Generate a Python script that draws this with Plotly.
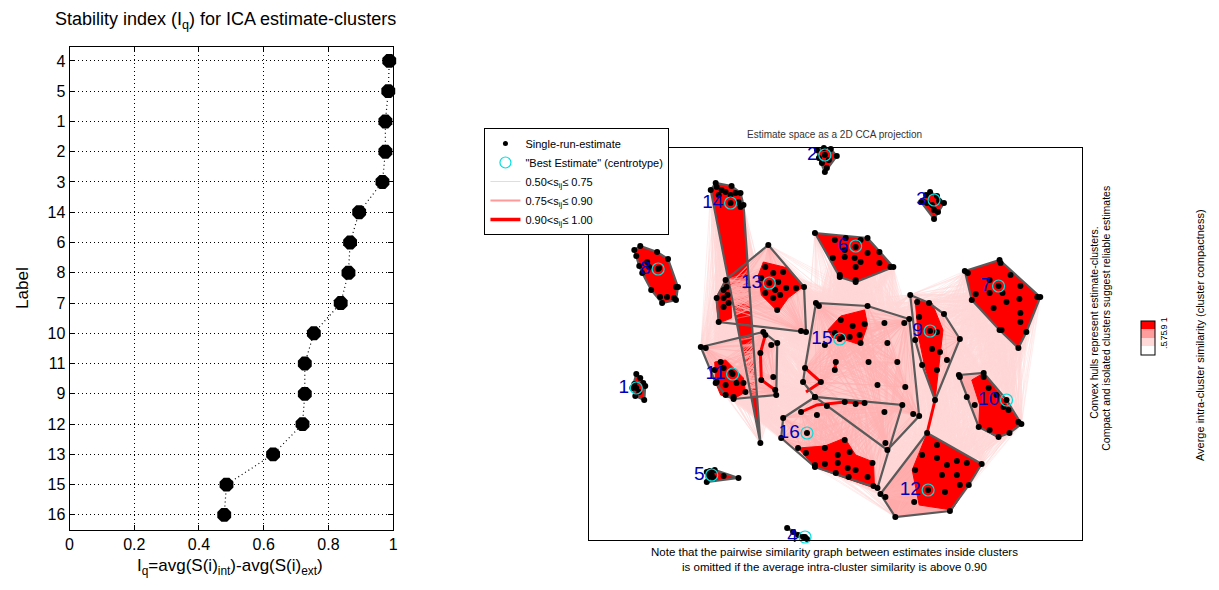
import plotly.graph_objects as go

# ---------------- Left panel data ----------------
IQ_LABELS = ['4', '5', '1', '2', '3', '14', '6', '8', '7', '10', '11', '9', '12', '13', '15', '16']
IQ_VALUES = [0.988, 0.985, 0.976, 0.976, 0.967, 0.895, 0.867, 0.862, 0.838,
             0.755, 0.727, 0.727, 0.720, 0.629, 0.485, 0.478]
X_TICKS = [0, 0.2, 0.4, 0.6, 0.8, 1]

# ---------------- Right panel data (2D CCA projection coordinates) ----------------
PTS_1 = [(637, 374), (641, 378), (644, 383), (646, 386), (635, 384), (637, 388), (640, 392),
         (645, 400), (636, 396), (633, 388)]
PTS_2 = [(819, 150), (826, 148), (833, 149), (839, 156), (827, 155), (831, 160), (824, 163),
         (829, 168), (827, 172), (821, 158)]
PTS_3 = [(933, 192), (929, 195), (940, 196), (947, 203), (942, 201), (935, 205), (930, 203),
         (937, 210), (941, 212), (937, 219), (924, 202)]
PTS_4 = [(789, 528), (795, 532), (800, 535), (805, 537), (809, 539), (807, 537)]
PTS_5 = [(708, 472), (711, 471), (716, 470), (713, 475), (710, 477), (715, 478), (708, 482),
         (725, 476), (740, 478)]
PTS_6 = [(817, 233), (837, 240), (848, 238), (863, 240), (870, 238), (858, 247), (847, 250),
         (835, 258), (847, 257), (857, 258), (870, 253), (882, 252), (863, 262), (882, 263),
         (858, 267), (842, 275), (842, 277), (858, 280), (858, 282), (893, 267), (896, 267)]
PTS_7 = [(968, 271), (971, 273), (1003, 260), (1004, 263), (1014, 275), (993, 280), (1024, 286),
         (1002, 286), (1006, 293), (993, 293), (979, 294), (1010, 302), (1023, 299), (1041, 297),
         (1044, 297), (997, 308), (1024, 313), (1024, 322), (1005, 330), (1003, 330), (1030, 332),
         (1022, 348), (975, 300)]
PTS_8 = [(635, 250), (641, 246), (658, 252), (637, 256), (648, 262), (669, 259), (640, 266),
         (650, 267), (659, 269), (660, 268), (643, 273), (679, 287), (677, 287), (668, 297),
         (661, 297), (663, 303), (675, 298), (677, 300), (652, 290)]
PTS_9 = [(913, 295), (920, 302), (932, 303), (947, 314), (922, 317), (933, 331), (940, 332),
         (963, 339), (935, 349), (943, 352), (950, 360), (925, 365), (940, 370), (938, 400),
         (918, 340)]
PTS_10 = [(962, 375), (987, 373), (963, 377), (987, 377), (970, 397), (992, 388), (1000, 395),
          (1010, 400), (978, 405), (1007, 407), (1012, 410), (1022, 422), (1025, 424), (982, 427),
          (993, 430), (1002, 437), (1013, 433)]
PTS_11 = [(702, 347), (707, 348), (722, 362), (716, 370), (725, 368), (733, 373), (734, 374),
          (718, 382), (727, 385), (738, 383), (745, 383), (727, 395), (735, 397), (735, 399),
          (747, 392), (767, 335), (765, 332), (762, 353), (773, 345), (779, 343), (775, 377),
          (763, 380), (777, 390), (778, 395), (717, 383)]
PTS_12 = [(930, 433), (940, 445), (925, 455), (940, 458), (960, 461), (970, 463), (985, 464),
          (950, 465), (918, 470), (945, 475), (960, 475), (972, 485), (963, 485), (931, 490),
          (948, 492), (917, 502), (953, 511), (898, 517), (888, 497), (883, 494)]
PTS_13 = [(770, 245), (767, 267), (775, 273), (785, 272), (763, 278), (771, 283), (780, 282),
          (788, 288), (777, 290), (767, 293), (782, 295), (775, 298), (779, 310), (798, 288),
          (806, 287), (808, 332), (803, 331), (728, 287), (725, 290), (729, 295), (725, 298),
          (730, 303), (725, 307), (720, 322), (718, 298), (727, 280)]
PTS_14 = [(717, 183), (718, 187), (723, 190), (727, 192), (720, 195), (732, 195), (737, 193),
          (733, 186), (740, 202), (742, 207), (745, 205), (732, 203), (742, 193), (712, 190),
          (762, 443)]
PTS_15 = [(818, 303), (821, 306), (843, 320), (855, 326), (867, 324), (862, 335), (852, 337),
          (845, 337), (837, 333), (827, 345), (842, 339), (863, 343), (870, 306), (887, 323),
          (907, 323), (912, 319), (890, 343), (838, 362), (837, 370), (871, 362), (900, 362),
          (807, 368), (805, 382), (823, 382), (880, 385), (908, 387), (922, 416), (916, 414),
          (890, 450), (888, 443), (817, 397)]
PTS_16 = [(785, 418), (817, 397), (829, 406), (847, 402), (858, 404), (867, 403), (905, 405),
          (887, 412), (803, 412), (819, 415), (809, 433), (783, 438), (800, 448), (808, 453),
          (827, 448), (847, 440), (852, 452), (840, 455), (817, 465), (827, 464), (840, 463),
          (850, 468), (858, 470), (875, 463), (870, 477), (838, 473), (851, 477), (876, 486),
          (880, 488), (817, 467)]

CLUSTER_IDS = list(range(1, 17))
CENTROTYPES = [(637, 388), (827, 155), (937, 200), (807, 537), (713, 475), (858, 246),
               (1002, 286), (659, 269), (933, 331), (1010, 400), (734, 374), (931, 490),
               (771, 283), (732, 203), (842, 339), (809, 433)]
COMPACTNESS = [0.97, 0.97, 0.96, 0.98, 0.98, 0.93, 0.92, 0.93, 0.72, 0.80, 0.72, 0.80,
               0.72, 0.92, 0.65, 0.70]

# dense (high-similarity) sub-regions inside the less compact clusters
CORE_9 = [[(918, 300), (935, 303), (946, 330), (941, 370), (938, 400), (928, 368), (921, 335)]]
CORE_10 = [[(975, 380), (987, 373), (1025, 424), (1002, 438), (982, 427), (983, 405)]]
CORE_11 = [[(716, 362), (727, 360), (745, 378), (747, 392), (735, 399), (722, 395), (717, 383)]]
CORE_12 = [[(930, 433), (985, 464), (955, 510), (922, 505), (915, 470), (924, 447)]]
CORE_13 = [[(765, 262), (790, 268), (805, 287), (790, 298), (780, 312), (763, 295), (760, 275)],
           [(727, 280), (732, 288), (733, 318), (720, 323), (717, 298)]]
CORE_15 = [[(830, 330), (843, 316), (867, 310), (870, 325), (863, 345), (848, 340), (835, 338)]]
CORE_16 = [[(800, 448), (827, 446), (847, 438), (858, 455), (876, 462), (877, 488), (850, 479),
            (817, 467)]]

# strong (0.90 < s_ij) individual edges
STRONG_EDGES = [[(767, 335), (762, 353), (763, 380), (777, 390)],
                [(803, 412), (819, 405), (847, 402), (867, 403)],
                [(938, 400), (930, 433)],
                [(807, 368), (823, 382), (808, 392)],
                [(838, 362), (837, 370)]]

# cluster pairs with weak (0.50-0.75) similarity links
LINKS = [(13, 15), (11, 16), (11, 13), (15, 9), (9, 10), (9, 12), (10, 12), (16, 12),
         (15, 16), (6, 15), (7, 9), (7, 10), (14, 11)]

ALL_PTS = [PTS_1, PTS_2, PTS_3, PTS_4, PTS_5, PTS_6, PTS_7, PTS_8, PTS_9, PTS_10, PTS_11,
           PTS_12, PTS_13, PTS_14, PTS_15, PTS_16]
CORES = {9: CORE_9, 10: CORE_10, 11: CORE_11, 12: CORE_12, 13: CORE_13, 15: CORE_15, 16: CORE_16}

FONT = "Arial, Liberation Sans, Helvetica, sans-serif"
# the page body keeps its default 8 px margin, so the figure is 16 px smaller than the window
OFF = 8
W, H = 1219 - 2 * OFF, 590 - 2 * OFF


def px(x):
    return (x - OFF) / W


def py(y):
    return 1 - (y - OFF) / H


def convex_hull(points):
    pts = sorted(set(points))
    if len(pts) < 3:
        return pts

    def cross(o, a, b):
        return (a[0] - o[0]) * (b[1] - o[1]) - (a[1] - o[1]) * (b[0] - o[0])

    lower, upper = [], []
    for p in pts:
        while len(lower) >= 2 and cross(lower[-2], lower[-1], p) <= 0:
            lower.pop()
        lower.append(p)
    for p in reversed(pts):
        while len(upper) >= 2 and cross(upper[-2], upper[-1], p) <= 0:
            upper.pop()
        upper.append(p)
    return lower[:-1] + upper[:-1]


def level_color(c):
    if c >= 0.9:
        return '#ff0000'
    if c >= 0.75:
        return '#ffaaaa'
    return '#ffcccc'


def segs(pairs):
    xs, ys = [], []
    for a, b in pairs:
        xs += [a[0], b[0], None]
        ys += [a[1], b[1], None]
    return xs, ys


fig = go.Figure()

# ---------------- Left panel ----------------
ypos = list(range(len(IQ_LABELS)))
fig.add_trace(go.Scatter(x=IQ_VALUES, y=ypos, mode='lines+markers',
                         line=dict(color='black', width=1.2, dash='1px,3px'),
                         marker=dict(color='black', size=15, symbol='octagon'),
                         xaxis='x', yaxis='y', showlegend=False, hoverinfo='skip',
                         cliponaxis=False))

# ---------------- Right panel ----------------
pairs = []
for a, b in LINKS:
    for p in ALL_PTS[a - 1]:
        for q in ALL_PTS[b - 1]:
            pairs.append((p, q))
lx, ly = segs(pairs)
fig.add_trace(go.Scatter(x=lx, y=ly, mode='lines', line=dict(color='#ffd6d6', width=0.45),
                         xaxis='x2', yaxis='y2', showlegend=False, hoverinfo='skip'))

hulls = [convex_hull(p) for p in ALL_PTS]
for cid, hpts, comp in zip(CLUSTER_IDS, hulls, COMPACTNESS):
    hx = [p[0] for p in hpts] + [hpts[0][0]]
    hy = [p[1] for p in hpts] + [hpts[0][1]]
    fig.add_trace(go.Scatter(x=hx, y=hy, mode='lines', fill='toself',
                             fillcolor=level_color(comp), line=dict(width=0),
                             xaxis='x2', yaxis='y2', showlegend=False, hoverinfo='skip'))

pairs = []
for pts, comp in zip(ALL_PTS, COMPACTNESS):
    if comp < 0.9:
        for i in range(len(pts)):
            for j in range(i + 1, len(pts)):
                pairs.append((pts[i], pts[j]))
ix, iy = segs(pairs)
fig.add_trace(go.Scatter(x=ix, y=iy, mode='lines', line=dict(color='#ffb0b0', width=0.5),
                         xaxis='x2', yaxis='y2', showlegend=False, hoverinfo='skip'))

for cid, polys in CORES.items():
    for poly in polys:
        fig.add_trace(go.Scatter(x=[p[0] for p in poly] + [poly[0][0]],
                                 y=[p[1] for p in poly] + [poly[0][1]],
                                 mode='lines', fill='toself', fillcolor='#ff0000',
                                 line=dict(color='#ff0000', width=1),
                                 xaxis='x2', yaxis='y2', showlegend=False, hoverinfo='skip'))
sx, sy = [], []
for path in STRONG_EDGES:
    sx += [p[0] for p in path] + [None]
    sy += [p[1] for p in path] + [None]
fig.add_trace(go.Scatter(x=sx, y=sy, mode='lines', line=dict(color='#ff0000', width=3),
                         xaxis='x2', yaxis='y2', showlegend=False, hoverinfo='skip'))

ox, oy = [], []
for hpts in hulls:
    ox += [p[0] for p in hpts] + [hpts[0][0], None]
    oy += [p[1] for p in hpts] + [hpts[0][1], None]
fig.add_trace(go.Scatter(x=ox, y=oy, mode='lines', line=dict(color='#5a5a5a', width=2.2),
                         xaxis='x2', yaxis='y2', showlegend=False, hoverinfo='skip'))

dx = [p[0] for pts in ALL_PTS for p in pts]
dy = [p[1] for pts in ALL_PTS for p in pts]
fig.add_trace(go.Scatter(x=dx, y=dy, mode='markers', marker=dict(color='black', size=6),
                         xaxis='x2', yaxis='y2', showlegend=False, hoverinfo='skip',
                         cliponaxis=False))
fig.add_trace(go.Scatter(x=[c[0] for c in CENTROTYPES], y=[c[1] for c in CENTROTYPES],
                         mode='markers',
                         marker=dict(symbol='circle-open', color='#00dede', size=12,
                                     line=dict(width=1.2, color='#00dede')),
                         xaxis='x2', yaxis='y2', showlegend=False, hoverinfo='skip',
                         cliponaxis=False))
fig.add_trace(go.Scatter(x=[c[0] for c in CENTROTYPES], y=[c[1] for c in CENTROTYPES],
                         mode='markers+text', text=[str(c) for c in CLUSTER_IDS],
                         textposition='middle left',
                         marker=dict(size=10, opacity=0),
                         textfont=dict(color='#0000bb', size=19, family=FONT),
                         xaxis='x2', yaxis='y2', showlegend=False, hoverinfo='skip',
                         cliponaxis=False))

# legend entries
fig.add_trace(go.Scatter(x=[None], y=[None], mode='markers', name='Single-run-estimate',
                         marker=dict(color='black', size=5), xaxis='x2', yaxis='y2'))
fig.add_trace(go.Scatter(x=[None], y=[None], mode='markers',
                         name='"Best Estimate" (centrotype)',
                         marker=dict(symbol='circle-open', color='#00dede', size=11,
                                     line=dict(width=1.2)), xaxis='x2', yaxis='y2'))
fig.add_trace(go.Scatter(x=[None], y=[None], mode='lines',
                         name='0.50<s<sub>ij</sub>≤ 0.75',
                         line=dict(color='#ffd0d0', width=1), xaxis='x2', yaxis='y2'))
fig.add_trace(go.Scatter(x=[None], y=[None], mode='lines',
                         name='0.75<s<sub>ij</sub>≤ 0.90',
                         line=dict(color='#ff9a9a', width=2), xaxis='x2', yaxis='y2'))
fig.add_trace(go.Scatter(x=[None], y=[None], mode='lines',
                         name='0.90<s<sub>ij</sub>≤ 1.00',
                         line=dict(color='#ff0000', width=3.5), xaxis='x2', yaxis='y2'))

# colorbar (cluster compactness)
CB_TICKS = ['.5', '.75', '.9', '1']
fig.add_trace(go.Scatter(x=[None, None], y=[None, None], mode='markers', xaxis='x2', yaxis='y2',
                         showlegend=False, hoverinfo='skip',
                         marker=dict(color=[0, 4], cmin=0, cmax=4, showscale=True,
                                     colorscale=[[0, '#ffffff'], [0.25, '#ffffff'],
                                                 [0.25, '#ffd8d8'], [0.5, '#ffd8d8'],
                                                 [0.5, '#ff9c9c'], [0.75, '#ff9c9c'],
                                                 [0.75, '#ff0000'], [1, '#ff0000']],
                                     colorbar=dict(x=px(1146), xanchor='left', xpad=0,
                                                   y=py(338), yanchor='middle', ypad=0,
                                                   len=34, lenmode='pixels', thickness=14,
                                                   outlinecolor='black', outlinewidth=1,
                                                   tickvals=[1, 2, 3, 4], ticktext=CB_TICKS,
                                                   tickangle=-90, ticks='',
                                                   tickfont=dict(size=9, family=FONT)))))

axis_common = dict(showline=True, linecolor='black', linewidth=1, mirror='allticks',
                   ticks='inside', ticklen=5, tickcolor='black', zeroline=False)

fig.update_layout(
    width=W, height=H, margin=dict(l=0, r=0, t=0, b=0),
    paper_bgcolor='white', plot_bgcolor='white',
    font=dict(family=FONT, color='black'),
    xaxis=dict(domain=[px(66), px(392)], range=[0, 1], tickvals=X_TICKS,
               ticktext=['0', '0.2', '0.4', '0.6', '0.8', '1'],
               showgrid=True, gridcolor='black', griddash='1px,3px', gridwidth=1,
               tickfont=dict(size=16), anchor='y', **axis_common),
    yaxis=dict(domain=[py(530), py(47)], range=[15.5, -0.46], tickvals=ypos,
               ticktext=IQ_LABELS, showgrid=True, gridcolor='black', griddash='1px,3px',
               gridwidth=1, tickfont=dict(size=16), anchor='x', **axis_common),
    xaxis2=dict(domain=[px(589), px(1086)], range=[589, 1086], showline=True,
                linecolor='black', mirror=True, showticklabels=False, ticks='',
                showgrid=False, zeroline=False, anchor='y2'),
    yaxis2=dict(domain=[py(540), py(148)], range=[540, 148], showline=True,
                linecolor='black', mirror=True, showticklabels=False, ticks='',
                showgrid=False, zeroline=False, anchor='x2'),
    showlegend=True,
    legend=dict(x=px(484), y=py(128), xanchor='left', yanchor='top',
                bgcolor='white', bordercolor='black', borderwidth=1,
                font=dict(size=11, family=FONT), tracegroupgap=0,
                itemwidth=30),
)

ann = [
    dict(text='Stability index (I<sub>q</sub>) for ICA estimate-clusters', x=px(223), y=py(20),
         font=dict(size=18)),
    dict(text='I<sub>q</sub>=avg(S(i)<sub>int</sub>)-avg(S(i)<sub>ext</sub>)', x=px(228),
         y=py(567), font=dict(size=17)),
    dict(text='Label', x=px(18), y=py(288), textangle=-90, font=dict(size=17)),
    dict(text='Estimate space as a 2D CCA projection', x=px(837), y=py(135),
         font=dict(size=10, color='#333333')),
    dict(text='Note that the pairwise similarity graph between estimates inside clusters<br>'
              'is omitted if the average intra-cluster similarity is above 0.90',
         x=px(837), y=py(559), font=dict(size=11.5)),
    dict(text='Convex hulls represent estimate-clusters.', x=px(1098), y=py(322),
         textangle=-90, font=dict(size=10.5)),
    dict(text='Compact and isolated clusters suggest reliable estimates', x=px(1110),
         y=py(318), textangle=-90, font=dict(size=10.5)),
    dict(text='Averge intra-cluster similarity (cluster compactness)', x=px(1205), y=py(335),
         textangle=-90, font=dict(size=11)),
]
for a in ann:
    a.update(xref='paper', yref='paper', showarrow=False, xanchor='center', yanchor='middle')
    fig.add_annotation(**a)

fig.write_html("out.html")
